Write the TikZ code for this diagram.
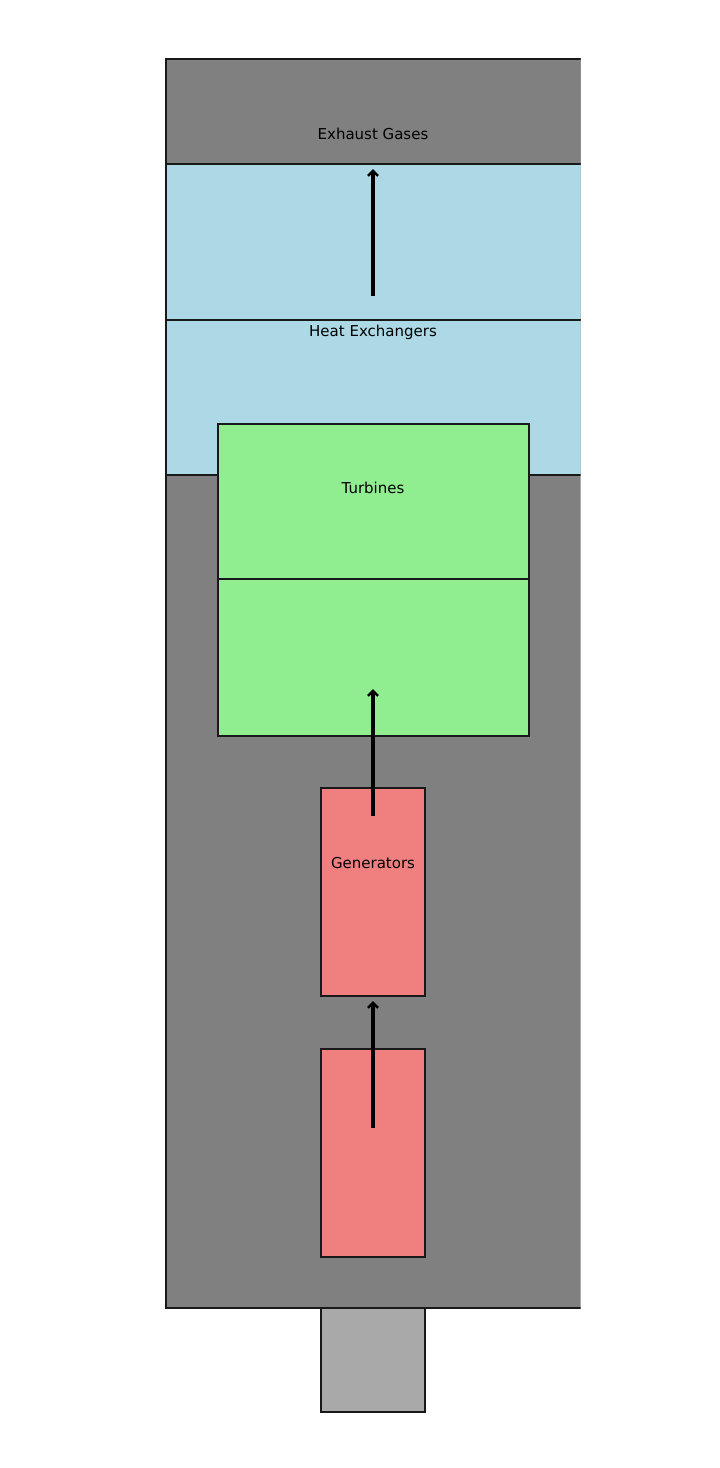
\documentclass[tikz,border=0pt]{standalone}
\usepackage{fontspec}
\setmainfont{DejaVu Sans}
\usepackage{xcolor}
\usepackage{tikz}
\usetikzlibrary{arrows.meta}

\definecolor{plantgray}{HTML}{808080}
\definecolor{hxblue}{HTML}{ADD8E6}
\definecolor{turbgreen}{HTML}{90EE90}
\definecolor{gencoral}{HTML}{F08080}
\definecolor{basegray}{HTML}{A9A9A9}

\tikzset{
  part/.style={draw=black!90,line width=1.3pt},
  flow/.style={line width=3.2pt,-{Straight Barb[length=5pt,width=10pt,line width=2.6pt]}},
  lbl/.style={font=\fontsize{15}{18}\selectfont,text=black,inner sep=0pt}
}

\begin{document}
\begin{tikzpicture}[x=1pt,y=-1pt]
    \useasboundingbox[fill=white] (0,0) rectangle (720,1468);
    \begin{scope}
      \clip (0,0) rectangle (580.5,1468);
      \draw[part,fill=plantgray] (166,59) rectangle (620,1308);
      \draw[part,fill=plantgray] (166,59) rectangle (620,164);
      \draw[part,fill=hxblue] (166,164) rectangle (620,320);
      \draw[part,fill=hxblue] (166,320) rectangle (620,475);
    \end{scope}
    \draw[part,fill=turbgreen] (218,424) rectangle (529,579);
    \draw[part,fill=turbgreen] (218,579) rectangle (529,736);
    \draw[part,fill=gencoral] (321,788) rectangle (425,996);
    \draw[part,fill=gencoral] (321,1049) rectangle (425,1257);
    \draw[part,fill=basegray] (321,1308) rectangle (425,1412);
    % labels
    \node[lbl] (exhaust) at (373,134) {Exhaust Gases};
    \node[lbl] (hx) at (373,332) {Heat Exchangers};
    \node[lbl] (turb) at (373,488) {Turbines};
    \node[lbl] (gen) at (373,863) {Generators};
    % flow arrows
    \coordinate (genin) at (373,1128);
    \coordinate (genout) at (373,1001);
    \coordinate (turbin) at (373,816);
    \coordinate (turbout) at (373,689);
    \coordinate (hxin) at (373,296);
    \coordinate (hxout) at (373,169);
    \draw[flow] (genin) -- (genout);
    \draw[flow] (turbin) -- (turbout);
    \draw[flow] (hxin) -- (hxout);
  \end{tikzpicture}
\end{document}
